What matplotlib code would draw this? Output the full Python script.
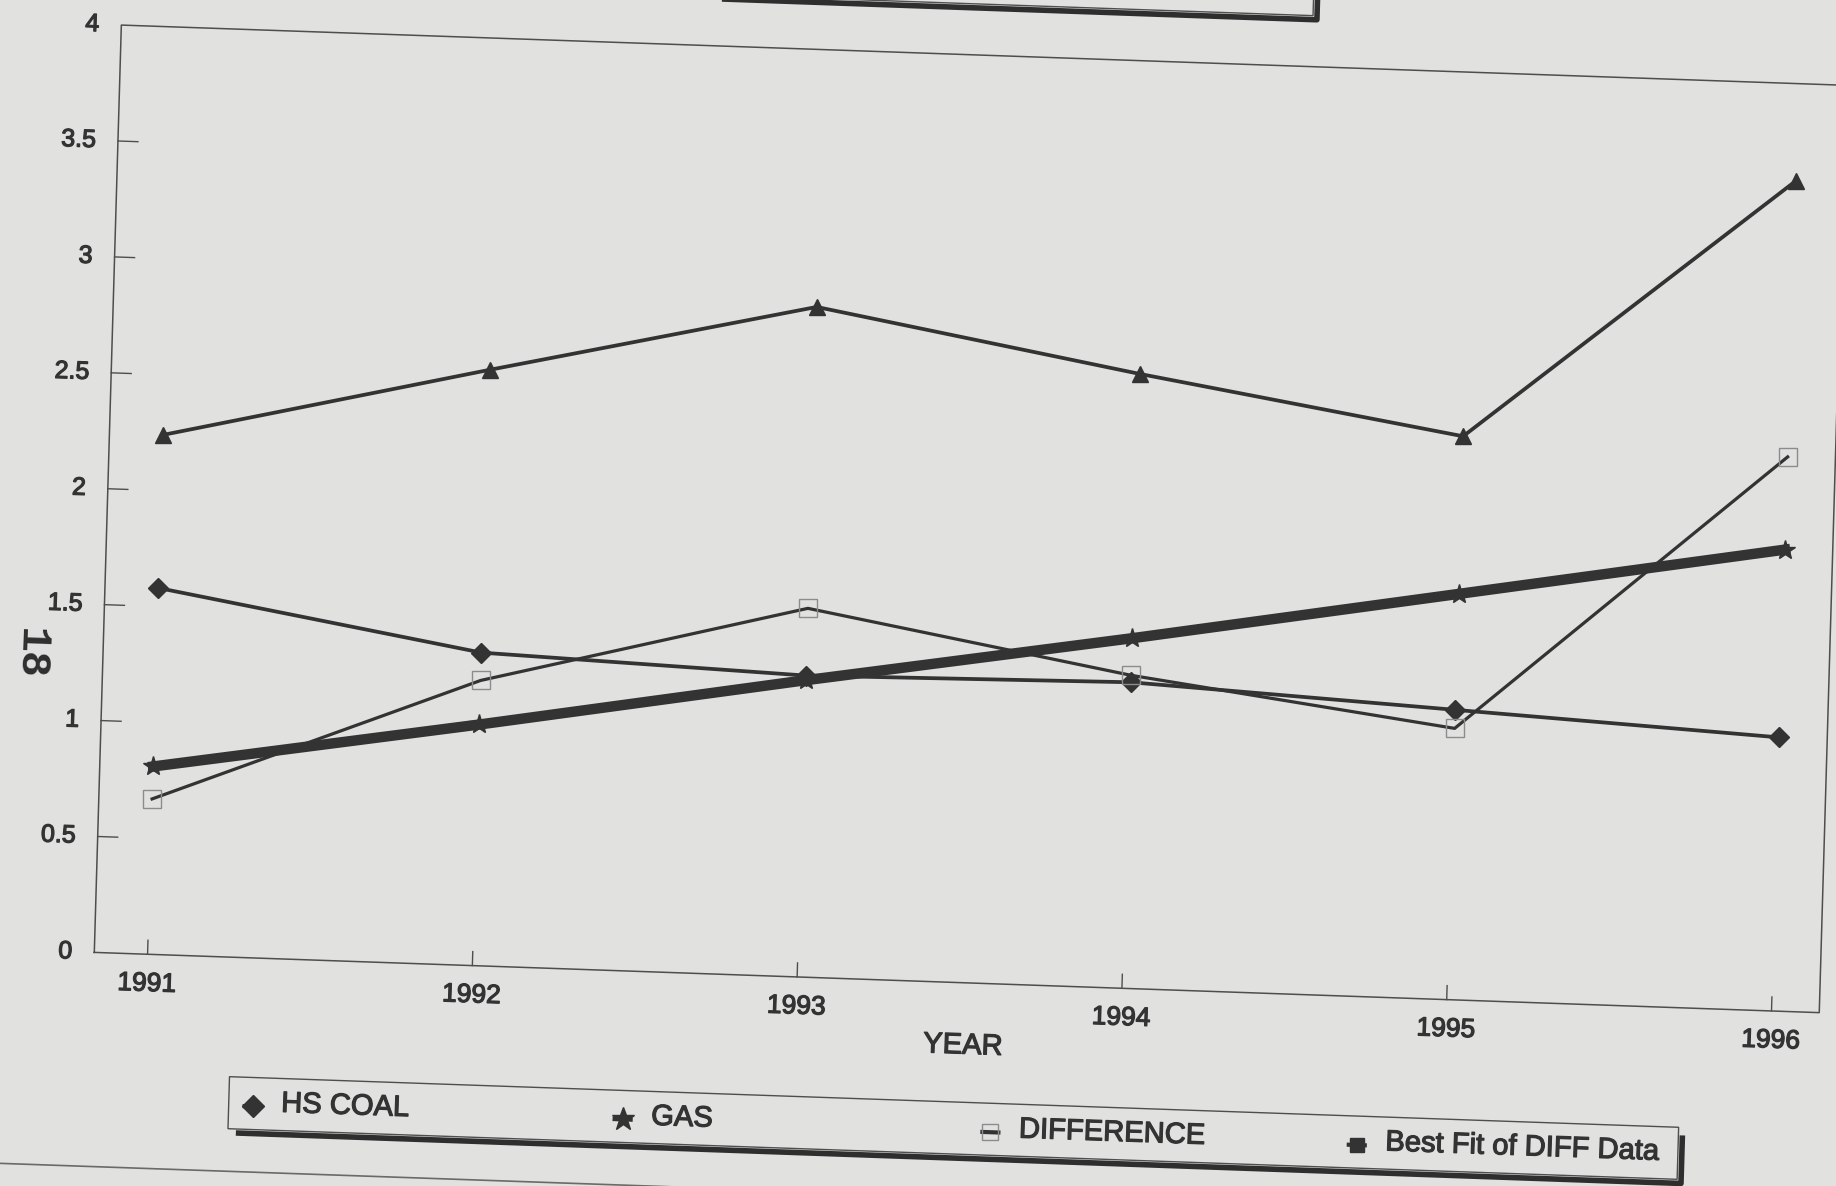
import matplotlib
matplotlib.use("Agg")
import matplotlib.pyplot as plt  # noqa: E402
import matplotlib.patheffects as pe  # noqa: E402
from matplotlib.patches import Rectangle  # noqa: E402
from matplotlib.transforms import Affine2D, blended_transform_factory  # noqa: E402

# ── data ────────────────────────────────────────────────────────────────
years = [1991, 1992, 1993, 1994, 1995, 1996]
hs_coal = [1.58, 1.35, 1.30, 1.32, 1.25, 1.18]
gas = [2.24, 2.57, 2.89, 2.65, 2.43, 3.58]
difference = [0.67, 1.23, 1.59, 1.35, 1.17, 2.39]
best_fit = [0.81, 1.04, 1.28, 1.51, 1.75, 1.99]

y_ticks = [0, 0.5, 1, 1.5, 2, 2.5, 3, 3.5, 4]
y_tick_labels = ["0", "0.5", "1", "1.5", "2", "2.5", "3", "3.5", "4"]
legend_labels = ["HS COAL", "GAS", "DIFFERENCE", "Best Fit of DIFF Data"]

# ── page setup ──────────────────────────────────────────────────────────
W, H, DPI = 1836, 1186, 100
PAPER = "#e1e1e0"
INK = "#333333"
FRAME = "#4e4e4e"
TILT = -2.0          # the printed page sits a little askew
SKEW = -0.33         # and the vertical edges lean a touch less

plt.rcParams["font.family"] = ["Liberation Sans", "DejaVu Sans"]

fig = plt.figure(figsize=(W / DPI, H / DPI), dpi=DPI, facecolor=PAPER)
left, bottom, width, height = 94.3, 233.6, 1726.0, 927.7     # pixels
ax = fig.add_axes([left / W, bottom / H, width / W, height / H])
ax.set_xlim(1990.836, 1996.147)
ax.set_ylim(0, 4)
ax.set_axis_off()

# everything goes through the same small shear + rotation about the corner
rot = (Affine2D().translate(-left, -bottom).skew_deg(SKEW, 0)
       .rotate_deg(TILT).translate(left, bottom))
data_t = ax.transData + rot
axes_t = ax.transAxes + rot
x_data_t = blended_transform_factory(ax.transData, ax.transAxes) + rot
y_data_t = blended_transform_factory(ax.transAxes, ax.transData) + rot

heavy = [pe.withStroke(linewidth=0.9, foreground=INK)]
txt = dict(color=INK, rotation=TILT, rotation_mode="anchor",
           path_effects=heavy)

# ── frame, ticks, tick labels ───────────────────────────────────────────
ax.plot([0, 1, 1, 0, 0], [0, 0, 1, 1, 0], transform=axes_t,
        color=FRAME, lw=1.1, clip_on=False)

for v, lab in zip(y_ticks, y_tick_labels):
    if 0 < v < 4:
        ax.plot([0, 20 / width], [v, v], transform=y_data_t,
                color=FRAME, lw=1.0, clip_on=False)
    ax.text(-22 / width, v, lab, transform=y_data_t, ha="right",
            va="center", fontsize=18, **txt)

for yr in years:
    ax.plot([yr, yr], [0, 14 / height], transform=x_data_t,
            color=FRAME, lw=1.0, clip_on=False)
    ax.text(yr, -0.032, str(yr), transform=x_data_t, ha="center",
            va="center", fontsize=19, **txt)

ax.text(0.5046, -0.0677, "YEAR", transform=axes_t, ha="center",
        va="center", fontsize=21, **txt)

# ── series ──────────────────────────────────────────────────────────────
ax.plot(years, gas, transform=data_t, color=INK, lw=2.7,
        marker="^", ms=12, clip_on=False)
ax.plot(years, hs_coal, transform=data_t, color=INK, lw=2.7,
        marker="D", ms=10, clip_on=False)
ax.plot(years, difference, transform=data_t, color=INK, lw=2.3,
        marker="s", ms=13, mfc="none", mec="#8c8c8c", mew=1.0,
        clip_on=False)
ax.plot(years, best_fit, transform=data_t, color="#333333", lw=7.5,
        marker="*", ms=15, clip_on=False)

# ── legend box along the bottom ─────────────────────────────────────────
lx0, lx1, ly0, ly1 = 0.0804, 0.9205, -0.1849, -0.1288
ax.add_patch(Rectangle((lx0, ly0), lx1 - lx0, ly1 - ly0, transform=axes_t,
                       fill=False, ec=FRAME, lw=1.0, clip_on=False))
sx, sy = 4 / width, 4 / height
ax.plot([lx0 + 2 * sx, lx1 + sx, lx1 + sx], [ly0 - sy, ly0 - sy, ly1 - 2 * sy],
        transform=axes_t, color="#2e2e2e", lw=4.0, clip_on=False,
        solid_capstyle="butt")

leg_y = -0.160
leg_x = [0.0943, 0.3088, 0.5220, 0.7344]
leg_lines = [INK, INK, INK, "#333333"]
leg_marks = [
    dict(marker="D", ms=11, color=INK),
    dict(marker="*", ms=17, color=INK),
    dict(marker="s", ms=11, mfc="none", mec="#8c8c8c", mew=1.0),
    dict(marker="s", ms=10, color="#333333"),
]
half = 8 / width
for x, lab, lc, mk in zip(leg_x, legend_labels, leg_lines, leg_marks):
    ax.plot([x - half, x + half], [leg_y, leg_y], transform=axes_t,
            color=lc, lw=3, clip_on=False)
    ax.plot([x], [leg_y], transform=axes_t, ls="none", clip_on=False, **mk)
    ax.text(x + 0.0165, leg_y + 0.004, lab, transform=axes_t, ha="left",
            va="center", fontsize=21, **txt)

# ── the rest of the page: box above, rule below, page number ───────────
tx0, tx1, ty0 = 0.25, 0.690, 1.055
ax.add_patch(Rectangle((tx0, ty0), tx1 - tx0, 0.2, transform=axes_t,
                       fill=False, ec=FRAME, lw=1.0, clip_on=False))
ax.plot([tx0 + 2 * sx, tx1 + sx, tx1 + sx], [ty0 - sy, ty0 - sy, ty0 + 0.2],
        transform=axes_t, color="#2e2e2e", lw=4.0, clip_on=False,
        solid_capstyle="butt")

ax.plot([-0.1, 0.45], [-0.2308, -0.2308], transform=axes_t,
        color="#6a6a6a", lw=1.2, clip_on=False)

fig.text(0.0165, 0.4490, "18", rotation=-92, family="Liberation Mono",
         fontsize=31, fontweight="bold", ha="center", va="center",
         color="#2e2e2e")

fig.savefig("out.png", dpi=DPI, facecolor=PAPER)
